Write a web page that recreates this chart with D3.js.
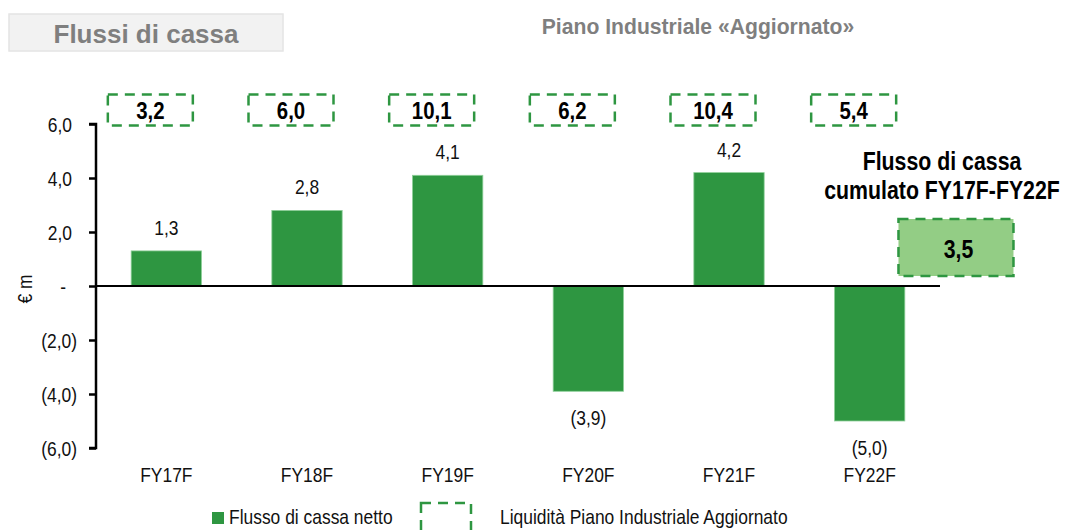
<!DOCTYPE html>
<html>
<head>
<meta charset="utf-8">
<script src="https://cdn.jsdelivr.net/npm/d3@7"></script>
<style>
  body { margin: 0; background: #fff; }
  svg { display: block; font-family: "Liberation Sans", Arial, sans-serif; }
</style>
</head>
<body>
<svg id="chart"></svg>
<script>
const WIDTH = 1068;
const HEIGHT = 530;
const GREEN = '#2e9641';
// The source uses a narrow face; squeeze Liberation Sans horizontally to match.
const NARROW = 0.85;

// Chart data.
const categories = ['FY17F', 'FY18F', 'FY19F', 'FY20F', 'FY21F', 'FY22F'];
const netFlow = [1.3, 2.8, 4.1, -3.9, 4.2, -5.0];
const liquidity = [3.2, 6.0, 10.1, 6.2, 10.4, 5.4];
const cumulative = 3.5;
const yTicks = [-6, -4, -2, 0, 2, 4, 6];

// Italian accounting style: comma decimal, negatives in brackets, zero as "-".
const fmt1 = d3.format('.1f');
function acct(v) {
  if (v === 0) return '-';
  const s = fmt1(Math.abs(v)).replace('.', ',');
  return v < 0 ? '(' + s + ')' : s;
}

// Position a text element with a horizontal squeeze.
function place(x, y, s = NARROW) {
  return `translate(${x},${y}) scale(${s},1)`;
}

const svg = d3.select('#chart')
  .attr('width', WIDTH)
  .attr('height', HEIGHT)
  .attr('viewBox', `0 0 ${WIDTH} ${HEIGHT}`);

const x = d3.scaleBand()
  .domain(categories)
  .range([96, 940])
  .paddingInner(0.5)
  .paddingOuter(0.25);

const y = d3.scaleLinear()
  .domain([-6, 6])
  .range([448, 124]);

const cx = d => x(d) + x.bandwidth() / 2;

// Title box.
svg.append('rect')
  .attr('x', 9).attr('y', 14)
  .attr('width', 274).attr('height', 37)
  .attr('fill', '#f2f2f2')
  .attr('stroke', '#e4e4e4')
  .attr('stroke-width', 1.5);
svg.append('text')
  .attr('x', 146).attr('y', 43)
  .attr('text-anchor', 'middle')
  .attr('font-weight', 'bold')
  .attr('font-size', 26)
  .attr('fill', '#7f7f7f')
  .text('Flussi di cassa');

svg.append('text')
  .attr('transform', place(698, 34, 0.94))
  .attr('text-anchor', 'middle')
  .attr('font-weight', 'bold')
  .attr('font-size', 22.5)
  .attr('fill', '#7f7f7f')
  .text('Piano Industriale «Aggiornato»');

// Bars.
svg.append('g')
  .selectAll('rect')
  .data(netFlow)
  .join('rect')
  .attr('x', (d, i) => x(categories[i]))
  .attr('width', x.bandwidth())
  .attr('y', d => y(Math.max(0, d)))
  .attr('height', d => Math.abs(y(d) - y(0)))
  .attr('fill', GREEN)
  .attr('stroke', '#8fd09a')
  .attr('stroke-width', 0.8);

// Bar value labels.
svg.append('g')
  .selectAll('text')
  .data(netFlow)
  .join('text')
  .attr('transform', (d, i) => place(cx(categories[i]), d >= 0 ? y(d) - 16 : y(d) + 34))
  .attr('text-anchor', 'middle')
  .attr('font-size', 20.5)
  .attr('fill', '#111')
  .text(d => acct(d));

// Zero line.
svg.append('line')
  .attr('x1', 96).attr('x2', 940)
  .attr('y1', y(0)).attr('y2', y(0))
  .attr('stroke', '#000')
  .attr('stroke-width', 2);

// Y axis.
const yAxis = svg.append('g')
  .attr('transform', 'translate(96,0)')
  .call(d3.axisLeft(y).tickValues(yTicks).tickSize(7).tickFormat(acct));
yAxis.select('.domain').attr('stroke-width', 2.5).attr('d', `M-7,${y(6)}H0V${y(-6)}H-7`);
yAxis.selectAll('.tick line').attr('stroke-width', 2.5);
yAxis.selectAll('.tick text')
  .attr('font-family', null)
  .attr('font-size', 20.5)
  .attr('fill', '#111')
  .attr('dy', '0.36em')
  .attr('x', d => (d > 0 ? -24 : (d === 0 ? -30 : -19)) / NARROW)
  .attr('transform', `scale(${NARROW},1)`);

svg.append('text')
  .attr('transform', `translate(32,289) rotate(-90) scale(${NARROW},1)`)
  .attr('text-anchor', 'middle')
  .attr('font-size', 20.5)
  .attr('fill', '#111')
  .text('€ m');

// X category labels.
svg.append('g')
  .selectAll('text')
  .data(categories)
  .join('text')
  .attr('transform', d => place(cx(d), 482))
  .attr('text-anchor', 'middle')
  .attr('font-size', 20.5)
  .attr('fill', '#111')
  .text(d => d);

// Liquidity boxes above the chart.
const boxW = 85;
const boxH = 31;
const liq = svg.append('g')
  .selectAll('g')
  .data(liquidity)
  .join('g')
  .attr('transform', (d, i) => `translate(${cx(categories[i]) - 16},110)`);
liq.append('rect')
  .attr('x', -boxW / 2).attr('y', -boxH / 2)
  .attr('width', boxW).attr('height', boxH)
  .attr('fill', 'none')
  .attr('stroke', GREEN)
  .attr('stroke-width', 2.5)
  .attr('stroke-dasharray', '10,7');
liq.append('text')
  .attr('transform', `translate(0,9) scale(${NARROW},1)`)
  .attr('text-anchor', 'middle')
  .attr('font-weight', 'bold')
  .attr('font-size', 24)
  .attr('fill', '#000')
  .text(d => acct(d));

// Cumulative cash flow.
const cumX = cx('FY22F') + x.step() * 0.61;
svg.append('text')
  .attr('transform', place(942, 170, 0.82))
  .attr('text-anchor', 'middle')
  .attr('font-weight', 'bold')
  .attr('font-size', 26)
  .attr('fill', '#000')
  .selectAll('tspan')
  .data(['Flusso di cassa', 'cumulato FY17F-FY22F'])
  .join('tspan')
  .attr('x', 0)
  .attr('dy', (d, i) => i === 0 ? 0 : 29)
  .text(d => d);

svg.append('rect')
  .attr('x', cumX - 57).attr('y', 219)
  .attr('width', 115).attr('height', 57)
  .attr('fill', '#93cd85')
  .attr('stroke', GREEN)
  .attr('stroke-width', 2.5)
  .attr('stroke-dasharray', '10,7');
svg.append('text')
  .attr('transform', place(cumX + 3, 258))
  .attr('text-anchor', 'middle')
  .attr('font-weight', 'bold')
  .attr('font-size', 25)
  .attr('fill', '#000')
  .text(acct(cumulative));

// Legend.
svg.append('rect')
  .attr('x', 212).attr('y', 512)
  .attr('width', 12).attr('height', 12)
  .attr('fill', GREEN);
svg.append('text')
  .attr('transform', place(229, 524))
  .attr('font-size', 20.5)
  .attr('fill', '#111')
  .text('Flusso di cassa netto');
svg.append('rect')
  .attr('x', 421).attr('y', 503)
  .attr('width', 50).attr('height', 40)
  .attr('fill', 'none')
  .attr('stroke', GREEN)
  .attr('stroke-width', 2.5)
  .attr('stroke-dasharray', '10,7');
svg.append('text')
  .attr('transform', place(500, 524))
  .attr('font-size', 20.5)
  .attr('fill', '#111')
  .text('Liquidità Piano Industriale Aggiornato');
</script>
</body>
</html>
